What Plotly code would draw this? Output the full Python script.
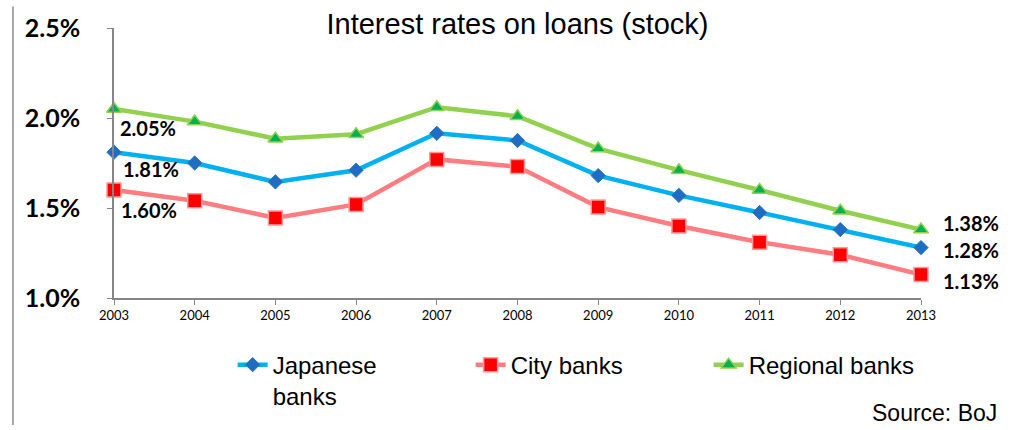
import plotly.graph_objects as go

# Loan interest rates by bank type, annual, percent
years = [2003, 2004, 2005, 2006, 2007, 2008, 2009, 2010, 2011, 2012, 2013]
japanese_banks = [1.81, 1.75, 1.645, 1.71, 1.915, 1.875, 1.68, 1.57, 1.475, 1.38, 1.28]
city_banks = [1.60, 1.54, 1.445, 1.52, 1.77, 1.73, 1.505, 1.40, 1.31, 1.24, 1.13]
regional_banks = [2.05, 1.98, 1.885, 1.91, 2.06, 2.01, 1.83, 1.71, 1.60, 1.485, 1.38]

y_ticks = [1.0, 1.5, 2.0, 2.5]
y_tick_text = ["1.0%", "1.5%", "2.0%", "2.5%"]

label_font = dict(family="Lato, 'DejaVu Sans', sans-serif", size=20, color="black", weight="bold")
text_font = "'Liberation Sans', Arial, sans-serif"

fig = go.Figure()

series = [
    ("Japanese<br>banks", japanese_banks, "#00B0F0",
     dict(symbol="diamond", size=11, color="#1F6DC2", line=dict(color="#2E75B6", width=1))),
    ("City banks", city_banks, "#FF7C80",
     dict(symbol="square", size=14, color="#FF0000", line=dict(color="#FF9999", width=1.5))),
    ("Regional banks", regional_banks, "#92D050",
     dict(symbol="triangle-up", size=13, color="#00B050", line=dict(color="#92D050", width=1.5))),
]

for name, vals, line_color, marker in series:
    fig.add_trace(go.Scatter(
        x=years, y=vals, name=name, mode="lines+markers",
        line=dict(color=line_color, width=4.5),
        marker=marker, cliponaxis=False,
    ))

# Value labels at the first and last year
first_offsets = [(37, -17, japanese_banks), (35, -20, city_banks), (34, -19, regional_banks)]
for dx, dy, vals in first_offsets:
    fig.add_annotation(x=years[0], y=vals[0], text=f"{vals[0]:.2f}%",
                       showarrow=False, xshift=dx, yshift=dy, font=label_font)

last_offsets = [(50, -2, japanese_banks), (50, -6, city_banks), (50, 7, regional_banks)]
for dx, dy, vals in last_offsets:
    fig.add_annotation(x=years[-1], y=vals[-1], text=f"{vals[-1]:.2f}%",
                       showarrow=False, xshift=dx, yshift=dy, font=label_font)

fig.add_annotation(xref="paper", yref="paper", x=1.097, y=-0.427,
                   xanchor="right", yanchor="middle", text="Source: BoJ",
                   showarrow=False, font=dict(family=text_font, size=23, color="black"))

# Thin vertical rule along the left edge
fig.add_shape(type="line", xref="paper", yref="paper",
              x0=-0.1252, x1=-0.1252, y0=-0.47, y1=1.08,
              line=dict(color="#A6A6A6", width=2))

fig.update_layout(
    width=1013, height=430,
    margin=dict(l=114, r=92, t=20, b=131),
    paper_bgcolor="white", plot_bgcolor="white",
    title=dict(text="Interest rates on loans (stock)", x=0.5, xref="paper",
               y=1 - 24 / 430, yref="container", xanchor="center", yanchor="middle",
               font=dict(family=text_font, size=29, color="black")),
    xaxis=dict(range=[2003, 2013], tickmode="array", tickvals=years,
               ticktext=[str(y) for y in years],
               showline=True, linecolor="#868686", linewidth=1.5,
               ticks="outside", ticklen=5, tickcolor="#868686",
               showgrid=False, zeroline=False,
               tickfont=dict(family="Lato, sans-serif", size=13, color="black")),
    yaxis=dict(range=[1.0, 2.5], tickmode="array", tickvals=y_ticks, ticktext=y_tick_text,
               showline=True, linecolor="#868686", linewidth=1.5,
               ticks="outside", ticklen=5, tickcolor="#868686",
               showgrid=False, zeroline=False, ticklabelstandoff=22,
               tickfont=dict(family="Lato, sans-serif", size=25, color="black", weight="bold")),
    showlegend=True,
    legend=dict(orientation="h", x=0.147, y=-0.165, xanchor="left", yanchor="top",
                valign="top", entrywidth=193, entrywidthmode="pixels",
                font=dict(family=text_font, size=24, color="black"),
                bgcolor="rgba(0,0,0,0)", traceorder="normal"),
)

fig.write_html("out.html")
